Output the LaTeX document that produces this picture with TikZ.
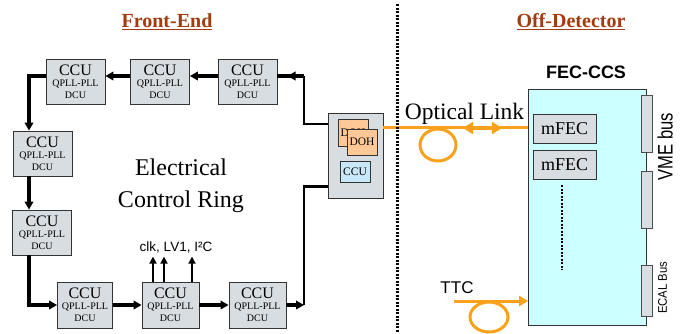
\documentclass[tikz,border=0pt]{standalone}
\usepackage{fontspec}
\setmainfont{Liberation Serif}
\setsansfont{Liberation Sans}
\usetikzlibrary{arrows.meta,positioning,decorations.markings}
\definecolor{RingGray}{HTML}{D7DDE0}
\definecolor{FibreOrange}{HTML}{F9A11B}
\definecolor{TitleBrown}{HTML}{A23C0E}
\definecolor{CrateCyan}{HTML}{CCFFFF}
\definecolor{DohPeach}{HTML}{FFC896}
\definecolor{ChipBlue}{HTML}{C8E8FA}
\newcommand{\ccutext}{\fontsize{16}{15}\selectfont CCU\\[-1pt]
  \fontsize{10}{11.5}\selectfont QPLL-PLL\\DCU}

\begin{document}
\begin{tikzpicture}[
  x=1pt,y=-1pt,
  ccubox/.style={
    draw=black!80,
    fill=RingGray,
    line width=0.8pt,
    minimum width=59pt,
    minimum height=45pt,
    inner sep=0pt,
    align=center
  },
  chip/.style={
    draw=black!80,
    line width=0.8pt,
    minimum width=30pt,
    minimum height=26pt,
    inner sep=0pt,
    font=\fontsize{11.5}{12}\selectfont
  },
  fecmod/.style={
    draw=black!80,
    fill=RingGray,
    line width=0.8pt,
    minimum width=63pt,
    minimum height=29pt,
    inner sep=0pt,
    font=\fontsize{18}{20}\selectfont
  },
  busbar/.style={
    draw=black!70,
    fill=RingGray,
    line width=0.8pt,
    minimum width=11pt,
    inner sep=0pt
  },
  ring/.style={
    line width=3.2pt,
    draw=black
  },
  ringarrow/.style={
    ring,
    -{Triangle[length=8pt,width=8.5pt]}
  },
  midarrow/.style={
    postaction={decorate},
    decoration={markings,
      mark=at position 0.62 with {\arrow{Triangle[length=8pt,width=8.5pt]}}}
  },
  wire/.style={
    line width=2.2pt,
    draw=black
  },
  optic/.style={
    draw=FibreOrange,
    line width=3pt
  },
  divider/.style={
    line width=3pt,
    dash pattern=on 2pt off 1.5pt
  },
  title/.style={
    font=\bfseries\fontsize{20}{22}\selectfont,
    text=TitleBrown
  }
]
\useasboundingbox (0,0) rectangle (684,333);

% -------------------------------------------------
% Titles
% -------------------------------------------------
\node[title] (fetitle) at (167,22) {\underline{Front-End}};
\node[title] (odtitle) at (571,22) {\underline{Off-Detector}};

% -------------------------------------------------
% CCU ring (front-end)
% -------------------------------------------------
\node[ccubox] (c1) at (75.5,81.5) {\ccutext};
\node[ccubox] (c2) at (160,81.5) {\ccutext};
\node[ccubox] (c3) at (247.5,81.5) {\ccutext};

\node[ccubox] (l1) at (42.5,153.5) {\ccutext};
\node[ccubox] (l2) at (42,232.5) {\ccutext};

\node[ccubox, minimum width=55pt, minimum height=46pt] (b1) at (85,305) {\ccutext};
\node[ccubox, minimum width=57pt, minimum height=46pt] (b2) at (170.5,305) {\ccutext};
\node[ccubox, minimum width=57pt, minimum height=46pt] (b3) at (257.5,305) {\ccutext};

\node[font=\fontsize{24}{32}\selectfont, align=center] (ringlabel) at (181,186)
{Electrical\\Control Ring};

\node[font=\sffamily\fontsize{13.5}{14}\selectfont] (sigs) at (176,247) {clk, LV1, I²C};

% DOH board
\node[ccubox, minimum width=55pt, minimum height=85pt] (dohbox) at (355.5,155.5) {};
\node[chip, fill=DohPeach, minimum height=27pt] (doh1) at (353,132.5) {DOH};
\node[chip, fill=DohPeach] (doh2) at (362,142) {DOH};
\node[chip, fill=ChipBlue, minimum height=21pt] (dohccu) at (355,171.5) {CCU};

\coordinate (ringne) at (304,76);
\coordinate (ringse) at (304,305);

% ring connections
\draw[wire] ([yshift=-11pt]dohbox.north west) -| (ringne);
\draw[ring, midarrow] (ringne) -- ([yshift=5.5pt]c3.east);
\draw[ringarrow] ([yshift=5.5pt]c3.west) -- ([yshift=5.5pt]c2.east);
\draw[ringarrow] ([yshift=5.5pt]c2.west) -- ([yshift=5.5pt]c1.east);
\draw[ringarrow] ([yshift=5.5pt]c1.west) -| ([xshift=-13.5pt]l1.north);
\draw[ringarrow] ([xshift=-13.5pt]l1.south) -- ([xshift=-13pt]l2.north);
\draw[ringarrow] ([xshift=-13pt]l2.south) |- (b1.west);
\draw[ringarrow] (b1.east) -- (b2.west);
\draw[ringarrow] (b2.east) -- (b3.west);
\draw[ringarrow] (b3.east) -- (ringse);
\draw[wire] (ringse) |- ([yshift=12pt]dohbox.south west);

\foreach \dx in {-17.5,-6.5,21.5}
  \draw[ring, line width=2.6pt, -{Triangle[length=7pt,width=7pt]}]
    ([xshift=\dx pt]b2.north) -- ++(0,-25);

% -------------------------------------------------
% Off-detector crate
% -------------------------------------------------
\node[draw=black!80, fill=CrateCyan, line width=0.8pt,
  minimum width=118pt, minimum height=236pt] (fec) at (587.5,207) {};
\node[font=\sffamily\bfseries\fontsize{18}{20}\selectfont] (feclabel) at (586,72) {FEC-CCS};

\node[fecmod] (mfec1) at (564.5,128.5) {mFEC};
\node[fecmod] (mfec2) at (564.5,164.5) {mFEC};
\draw[divider, line width=2.5pt] (562,185) -- (562,270);

\node[busbar, minimum height=57pt] (vme1) at (646.5,123.5) {};
\node[busbar, minimum height=57pt] (vme2) at (646.5,199.5) {};
\node[busbar, minimum height=51pt] (ecalbar) at (646.5,290.5) {};
\node[rotate=90, font=\sffamily\fontsize{21}{22}\selectfont] (vmelabel) at (665,146.5)
  {\scalebox{0.79}[1]{VME bus}};
\node[rotate=90, font=\sffamily\fontsize{12.5}{13}\selectfont] (ecallabel) at (662.5,288)
  {\scalebox{0.9}[1]{ECAL Bus}};

% -------------------------------------------------
% Optical link and TTC
% -------------------------------------------------
\coordinate (fibrein) at ([yshift=-15pt]dohbox.north east);
\draw[optic] (fibrein) -- (fibrein -| fec.west);
\draw[optic] (438,145) ellipse [x radius=18, y radius=16];
\coordinate (linkl) at (463,128);
\coordinate (linkr) at (502,128);
\draw[optic, line width=4.5pt,
  {Triangle[length=10pt,width=12pt]}-{Triangle[length=10pt,width=12pt]}] (linkl) -- (linkr);
\node[font=\fontsize{23.5}{26}\selectfont, anchor=base] (linklabel) at (464.5,119) {Optical Link};

\node[font=\sffamily\fontsize{17}{18}\selectfont] (ttc) at (457,288) {TTC};
\coordinate (ttcin) at (454,301);
\draw[optic, -{Triangle[length=9pt,width=10pt]}] (ttcin) -- (ttcin -| fec.west);
\draw[optic] (489,317) ellipse [x radius=19, y radius=15];

% front-end / off-detector border
\draw[divider] (397,4) -- (397,333);

\end{tikzpicture}
\end{document}
